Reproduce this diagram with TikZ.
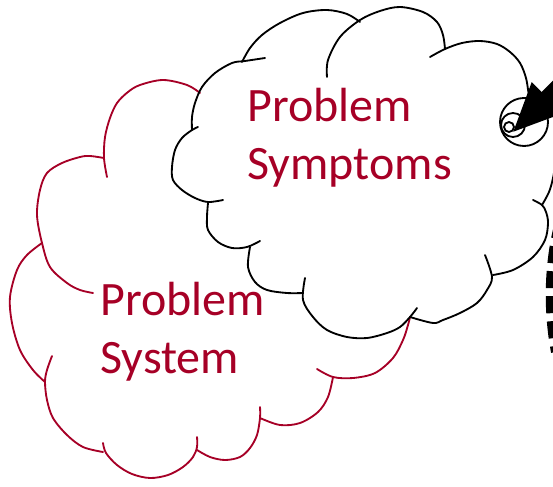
\documentclass[tikz,border=0pt]{standalone}
\usepackage{fontspec}
\setmainfont{Carlito}
\usetikzlibrary{arrows.meta}

\definecolor{sysred}{RGB}{166,0,38}

\def\pageW{553}
\def\pageH{486}

\tikzset{
  cloudline/.style = {line width=1.05pt, black, line cap=round},
  sysline/.style = {line width=1.05pt, sysred, line cap=round},
  bump/.style = {smooth, tension=0.55},
  bubble/.style = {line width=1.05pt, black},
  bigarrow/.style = {line width=0.32cm, -{Triangle[length=1cm, width=0.8cm]}},
  dashcurve/.style = {line width=0.2cm, dash pattern=on 0.34cm off 0.16cm},
  cloudtext/.style = {sysred, align=left, inner sep=0pt,
    font=\fontsize{27.3}{33}\selectfont}
}

\begin{document}
\begin{tikzpicture}[x=0.02cm, y=-0.02cm]
  \useasboundingbox (0,0) rectangle (\pageW,\pageH);
  \clip (0,0) rectangle (\pageW,\pageH);

  %% system cloud (only the part left of the front cloud)
  \draw[sysline] plot[bump] coordinates {(107,177) (104,158) (105,137) (110,118) (117,103) (128,92) (140,85) (163,80) (187,85) (200,93)};
  \draw[sysline] plot[bump] coordinates {(104,158) (90,156) (80,157) (62,163) (47,173) (40,190) (37,215) (42,243) (50,267) (67,283) (80,290) (93,293)};
  \draw[sysline] plot[bump] coordinates {(42,243) (27,255) (17,270) (10,297) (12,323) (20,350) (33,370) (45,382)};
  \draw[sysline] plot[bump] coordinates {(52,356) (47,370) (45,382) (47,400) (53,418) (67,435) (83,447) (103,452)};
  \draw[sysline] plot[bump] coordinates {(103,443) (106,453) (117,465) (132,474) (150,478) (168,475) (183,467) (193,457) (197,447) (197,437)};
  \draw[sysline] plot[bump] coordinates {(197,450) (210,457) (225,460) (240,457) (250,448) (257,435) (260,418) (260,407)};
  \draw[sysline] plot[bump] coordinates {(260,418) (280,425) (300,423) (318,412) (328,397) (333,377)};
  \draw[sysline] plot[bump] coordinates {(317,369) (333,377) (353,378) (375,373) (393,358) (403,340) (408,325) (410,317)};

  %% symptoms cloud
  \draw[cloudline] plot[bump] coordinates {(242,62) (250,48) (262,35) (280,23) (303,13) (327,10) (347,14) (360,22)};
  \draw[cloudline] plot[bump] coordinates {(327,77) (328,60) (340,37) (360,20) (380,11) (400,7) (423,12) (437,22) (443,35) (445,49)};
  \draw[cloudline] plot[bump] coordinates {(430,57) (445,49) (462,43) (480,41) (497,44) (510,52) (520,63) (526,78) (529,95) (534,112)};
  \draw[cloudline] plot[bump] coordinates {(542,205) (549,192) (553,178) (556,160)};
  \draw[cloudline] plot[bump] coordinates {(493,275) (513,270) (533,257) (545,240) (548,223) (546,212) (542,205) (533,200)};
  \draw[cloudline] plot[bump] coordinates {(410,317) (433,323) (443,320) (460,313) (477,303) (487,290) (492,277) (485,255)};
  \draw[cloudline] plot[bump] coordinates {(305,278) (303,300) (313,317) (327,330) (347,337) (367,338) (387,333) (400,327) (410,317) (417,308)};
  \draw[cloudline] plot[bump] coordinates {(250,247) (248,267) (255,282) (267,290) (287,293) (303,293)};
  \draw[cloudline] plot[bump] coordinates {(208,203) (207,217) (208,230) (218,242) (232,248) (247,247) (260,241)};
  \draw[cloudline] plot[bump] coordinates {(198,127) (192,130) (182,138) (175,150) (172,167) (173,180) (182,190) (195,198) (208,202) (223,200)};
  \draw[cloudline] plot[bump] coordinates {(265,58) (245,61) (232,63) (215,73) (202,87) (195,103) (192,117) (192,130)};

  %% thought bubbles
  \draw[bubble] (524,122) circle[radius=24];
  \draw[bubble] (513,125) circle[radius=12];
  \draw[bubble] (509,127) circle[radius=5];

  %% heavy arrow into the bubbles
  \coordinate (arrowtail) at (600,45);
  \coordinate (arrowtip) at (512,133);
  \draw[bigarrow] (arrowtail) -- (arrowtip);

  %% dashed curve at the edge
  \coordinate (dashtop) at (560,222);
  \coordinate (dashend) at (556,352);
  \draw[dashcurve] (dashtop) .. controls (549,262) and (548,310) .. (dashend);

  %% base anchor sits on the last line
  \node[cloudtext, anchor=base west] (symptoms) at (247,179) {Problem\\Symptoms};
  \node[cloudtext, anchor=base west] (system) at (100,373) {Problem\\System};
\end{tikzpicture}
\end{document}
